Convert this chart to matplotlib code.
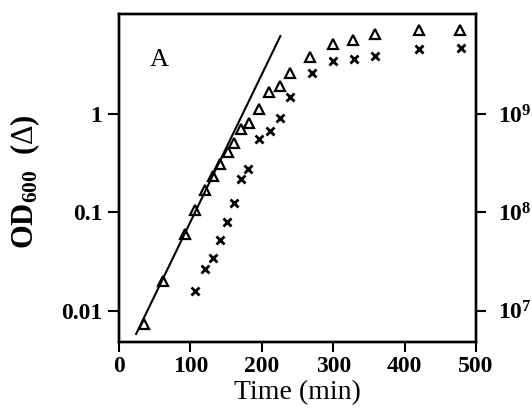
import matplotlib
matplotlib.use("Agg")
import matplotlib.pyplot as plt
import numpy as np

# Data
od_time = [35, 61, 92, 106, 120, 131, 142, 152, 161, 171, 182, 196, 210, 226, 240, 268, 300, 328, 358, 420, 478]
od_values = [0.0074, 0.0202, 0.060, 0.106, 0.169, 0.236, 0.315, 0.417, 0.515, 0.704, 0.823,
             1.12, 1.70, 1.94, 2.65, 3.83, 5.15, 5.66, 6.61, 7.15, 7.15]
cell_time = [106, 120, 131, 141, 151, 161, 171, 181, 196, 211, 226, 240, 270, 300, 329, 358, 420, 479]
cell_values = [1.6e7, 2.65e7, 3.48e7, 5.2e7, 8.0e7, 1.26e8, 2.18e8, 2.76e8, 5.57e8, 6.77e8, 9.1e8,
               1.5e9, 2.65e9, 3.49e9, 3.62e9, 3.92e9, 4.58e9, 4.76e9]
fit_time = [24, 226]
fit_od = [0.0058, 6.26]

x_ticks = [0, 100, 200, 300, 400, 500]
y_ticks = [0.01, 0.1, 1]
y_tick_labels = ["0.01", "0.1", "1"]
r_ticks = [1e7, 1e8, 1e9]
r_tick_labels = [r"$\mathbf{10^{7}}$", r"$\mathbf{10^{8}}$", r"$\mathbf{10^{9}}$"]

plt.rcParams["font.family"] = ["Liberation Serif", "DejaVu Serif"]
plt.rcParams["mathtext.fontset"] = "custom"
plt.rcParams["mathtext.rm"] = "Liberation Serif"
plt.rcParams["mathtext.bf"] = "Liberation Serif:bold"
plt.rcParams["mathtext.it"] = "Liberation Serif:italic"

fig = plt.figure(figsize=(5.32, 4.08), dpi=100)
ax = fig.add_axes([119/532, 1-342/408, (476-119)/532, (342-14)/408])

ylo, yhi = 0.0048, 10.5
ax.set_yscale("log")
ax.set_xlim(0, 500)
ax.set_ylim(ylo, yhi)

ax.plot(fit_time, fit_od, color="black", lw=1.5)
ax.plot(od_time, od_values, linestyle="none", marker="^", markersize=7.5,
        markerfacecolor="none", markeredgecolor="black", markeredgewidth=1.6)

ax2 = ax.twinx()
ax2.set_yscale("log")
ax2.set_ylim(ylo*1e9, yhi*1e9)
ax2.plot(cell_time, cell_values, linestyle="none", marker="x", markersize=5.5,
         color="black", markeredgewidth=2.0)

ax.set_xticks(x_ticks)
ax.set_xticklabels([str(v) for v in x_ticks], fontweight="bold", fontsize=17)
ax.set_yticks(y_ticks)
ax.set_yticklabels(y_tick_labels, fontweight="bold", fontsize=17)
ax.yaxis.set_minor_locator(matplotlib.ticker.NullLocator())
ax2.set_yticks(r_ticks)
ax2.set_yticklabels(r_tick_labels, fontsize=17)
ax2.yaxis.set_minor_locator(matplotlib.ticker.NullLocator())

ax.tick_params(axis="both", direction="out", length=8, width=1.5, pad=4)
ax.tick_params(axis="x", length=7, pad=3)
ax2.tick_params(axis="y", direction="out", length=7, width=1.5, pad=9)

for a in (ax, ax2):
    for s in a.spines.values():
        s.set_linewidth(1.7)

ax.set_xlabel("Time (min)", fontsize=20, labelpad=2)
ax.set_ylabel(r"OD$_{\mathbf{600}}$  ($\Delta$)", fontsize=22, fontweight="bold")
ax.yaxis.set_label_coords(-0.215, 0.49)

ax.text(0.087, 0.84, "A", transform=ax.transAxes, fontsize=19)

fig.savefig("out.png", dpi=100)
